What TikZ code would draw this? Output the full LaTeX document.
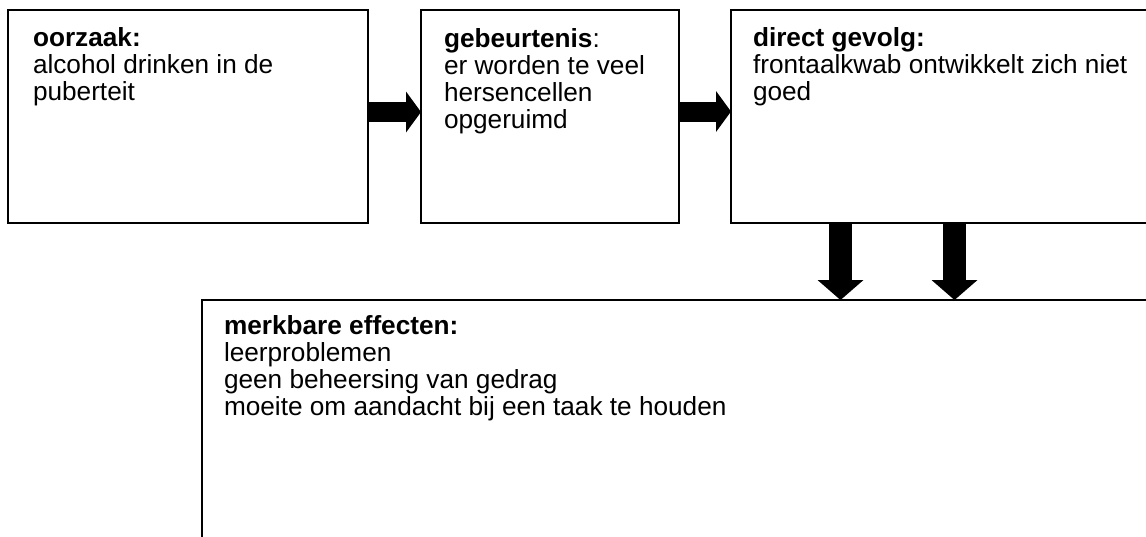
\documentclass[tikz,border=0pt]{standalone}
\usepackage{fontspec}
\setmainfont{Liberation Sans}
\usetikzlibrary{arrows.meta,calc}

\tikzset{every picture/.style={line width=1pt}}
\tikzset{
  box/.style={draw, rectangle, anchor=north west, inner sep=0pt, outer sep=0pt},
  txt/.style={anchor=north west, inner sep=0pt, align=left, font=\fontsize{13.1pt}{13.6pt}\selectfont},
  flowarrow/.style={line width=10pt, -{Triangle[length=7.5pt,width=20.5pt,line width=0pt]}},
  downarrow/.style={line width=11.5pt, -{Triangle[length=10pt,width=23pt,line width=0pt]}}
}
\newcommand{\firstline}{\rule{0pt}{10pt}}

\begin{document}
\begin{tikzpicture}[x=0.5pt,y=0.5pt,yscale=-1,xscale=1]
\useasboundingbox (0,0) rectangle (1146,536);
\clip (0,0) rectangle (1146,536);

%Shape: Rectangle
\node[box, minimum width=180pt, minimum height=106.5pt] (oorzaak) at (8,10) {};
%Shape: Rectangle
\node[box, minimum width=129pt, minimum height=106.5pt] (gebeurtenis) at (421,10) {};
%Shape: Rectangle
\node[box, minimum width=250pt, minimum height=106.5pt] (gevolg) at (731,10) {};
%Shape: Rectangle
\node[box, minimum width=500pt, minimum height=150pt] (effecten) at (202,300) {};

% Text Node
\node[txt] (oorzaaktxt) at ($(oorzaak.north west)+(24,15)$) {\firstline\textbf{oorzaak:}\\alcohol drinken in de\\puberteit};
% Text Node
\node[txt] (gebeurtenistxt) at ($(gebeurtenis.north west)+(22,16)$) {\firstline\textbf{gebeurtenis}:\\er worden te veel\\hersencellen\\opgeruimd};
% Text Node
\node[txt] (gevolgtxt) at ($(gevolg.north west)+(21,15)$) {\firstline\textbf{direct gevolg:}\\frontaalkwab ontwikkelt zich niet\\goed};
% Text Node
\node[txt] (effectentxt) at ($(effecten.north west)+(21,13)$) {\firstline\textbf{merkbare effecten:}\\leerproblemen\\geen beheersing van gedrag\\moeite om aandacht bij een taak te houden};

%Block Arrows
\draw[flowarrow] ($(oorzaak.east)+(0,-4.5)$) -- ($(gebeurtenis.west)+(0,-4.5)$);
\draw[flowarrow] ($(gebeurtenis.east)+(0,-5)$) -- ($(gevolg.west)+(0,-5)$);

\coordinate (d1) at ($(gevolg.south west)+(109.5,0)$);
\coordinate (d2) at ($(gevolg.south west)+(223.5,0)$);
\draw[downarrow] (d1) -- (d1 |- effecten.north);
\draw[downarrow] (d2) -- (d2 |- effecten.north);

\end{tikzpicture}
\end{document}
